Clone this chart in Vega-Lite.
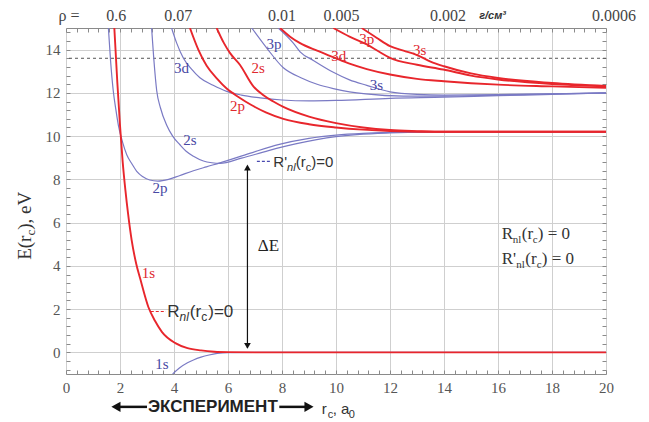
{
"$schema": "https://vega.github.io/schema/vega-lite/v6.json",
"width": 540, "height": 346,
"autosize": "none",
"padding": {"left": 66, "top": 28, "right": 43, "bottom": 48},
"background": "white",
"data": {"values": [{}]},
"datasets": {"curves": [
{"b":"P","c":"1s","x":3.95,"y":-1},{"b":"P","c":"1s","x":4.2,"y":-0.72},{"b":"P","c":"1s","x":4.5,"y":-0.48},{"b":"P","c":"1s","x":4.72,"y":-0.35},{"b":"P","c":"1s","x":5.0,"y":-0.22},{"b":"P","c":"1s","x":5.3,"y":-0.12},{"b":"P","c":"1s","x":5.6,"y":-0.05},{"b":"P","c":"1s","x":6,"y":-0.01},{"b":"P","c":"1s","x":7,"y":0},{"b":"P","c":"1s","x":20,"y":0},
{"b":"P","c":"2p","x":1.57,"y":15},{"b":"P","c":"2p","x":1.65,"y":13.5},{"b":"P","c":"2p","x":1.75,"y":12.1},{"b":"P","c":"2p","x":1.85,"y":11.2},{"b":"P","c":"2p","x":1.94,"y":10.5},{"b":"P","c":"2p","x":2.1,"y":9.7},{"b":"P","c":"2p","x":2.25,"y":9.14},{"b":"P","c":"2p","x":2.45,"y":8.7},{"b":"P","c":"2p","x":2.62,"y":8.37},{"b":"P","c":"2p","x":2.85,"y":8.12},{"b":"P","c":"2p","x":3.1,"y":7.97},{"b":"P","c":"2p","x":3.4,"y":7.92},{"b":"P","c":"2p","x":3.8,"y":8.0},{"b":"P","c":"2p","x":4.2,"y":8.17},{"b":"P","c":"2p","x":4.72,"y":8.4},{"b":"P","c":"2p","x":5.2,"y":8.58},{"b":"P","c":"2p","x":5.7,"y":8.76},{"b":"P","c":"2p","x":6.8,"y":9.2},{"b":"P","c":"2p","x":7.9,"y":9.62},{"b":"P","c":"2p","x":9,"y":9.9},{"b":"P","c":"2p","x":10,"y":10.05},{"b":"P","c":"2p","x":11,"y":10.13},{"b":"P","c":"2p","x":12,"y":10.17},{"b":"P","c":"2p","x":14,"y":10.2},{"b":"P","c":"2p","x":20,"y":10.2},
{"b":"P","c":"2s","x":3.17,"y":15},{"b":"P","c":"2s","x":3.25,"y":13.6},{"b":"P","c":"2s","x":3.36,"y":12.1},{"b":"P","c":"2s","x":3.5,"y":11.3},{"b":"P","c":"2s","x":3.73,"y":10.5},{"b":"P","c":"2s","x":3.95,"y":10.0},{"b":"P","c":"2s","x":4.22,"y":9.6},{"b":"P","c":"2s","x":4.45,"y":9.3},{"b":"P","c":"2s","x":4.72,"y":9.07},{"b":"P","c":"2s","x":5.09,"y":8.85},{"b":"P","c":"2s","x":5.4,"y":8.77},{"b":"P","c":"2s","x":5.7,"y":8.74},{"b":"P","c":"2s","x":6.5,"y":8.98},{"b":"P","c":"2s","x":7.5,"y":9.33},{"b":"P","c":"2s","x":8.5,"y":9.64},{"b":"P","c":"2s","x":10,"y":9.98},{"b":"P","c":"2s","x":12,"y":10.15},{"b":"P","c":"2s","x":14,"y":10.2},{"b":"P","c":"2s","x":20,"y":10.2},
{"b":"P","c":"3d","x":3.91,"y":15},{"b":"P","c":"3d","x":4.1,"y":14.3},{"b":"P","c":"3d","x":4.35,"y":13.6},{"b":"P","c":"3d","x":4.65,"y":13.1},{"b":"P","c":"3d","x":4.96,"y":12.7},{"b":"P","c":"3d","x":5.45,"y":12.35},{"b":"P","c":"3d","x":5.95,"y":12.07},{"b":"P","c":"3d","x":6.5,"y":11.9},{"b":"P","c":"3d","x":7.19,"y":11.77},{"b":"P","c":"3d","x":8,"y":11.67},{"b":"P","c":"3d","x":9,"y":11.63},{"b":"P","c":"3d","x":10,"y":11.65},{"b":"P","c":"3d","x":12,"y":11.75},{"b":"P","c":"3d","x":14,"y":11.8},{"b":"P","c":"3d","x":16,"y":11.87},{"b":"P","c":"3d","x":18,"y":11.93},{"b":"P","c":"3d","x":20,"y":12.0},
{"b":"P","c":"3p","x":6.88,"y":15},{"b":"P","c":"3p","x":7.43,"y":14.08},{"b":"P","c":"3p","x":8.05,"y":13.16},{"b":"P","c":"3p","x":8.7,"y":12.7},{"b":"P","c":"3p","x":9.3,"y":12.4},{"b":"P","c":"3p","x":9.9,"y":12.2},{"b":"P","c":"3p","x":10.5,"y":12.05},{"b":"P","c":"3p","x":11.1,"y":11.95},{"b":"P","c":"3p","x":12.5,"y":11.85},{"b":"P","c":"3p","x":14,"y":11.85},{"b":"P","c":"3p","x":16,"y":11.9},{"b":"P","c":"3p","x":18,"y":11.95},{"b":"P","c":"3p","x":20,"y":11.99},
{"b":"P","c":"3s","x":7.86,"y":15},{"b":"P","c":"3s","x":8.42,"y":14.3},{"b":"P","c":"3s","x":8.67,"y":13.9},{"b":"P","c":"3s","x":9.16,"y":13.5},{"b":"P","c":"3s","x":9.9,"y":12.95},{"b":"P","c":"3s","x":10.5,"y":12.6},{"b":"P","c":"3s","x":11.14,"y":12.35},{"b":"P","c":"3s","x":12,"y":12.05},{"b":"P","c":"3s","x":13,"y":11.93},{"b":"P","c":"3s","x":14,"y":11.9},{"b":"P","c":"3s","x":16,"y":11.92},{"b":"P","c":"3s","x":18,"y":11.96},{"b":"P","c":"3s","x":20,"y":12.0},
{"b":"R","c":"1s","x":1.79,"y":15},{"b":"R","c":"1s","x":1.9,"y":12.5},{"b":"R","c":"1s","x":2.0,"y":10.5},{"b":"R","c":"1s","x":2.1,"y":8.8},{"b":"R","c":"1s","x":2.2,"y":7.5},{"b":"R","c":"1s","x":2.3,"y":6.4},{"b":"R","c":"1s","x":2.43,"y":5.2},{"b":"R","c":"1s","x":2.6,"y":4.1},{"b":"R","c":"1s","x":2.75,"y":3.4},{"b":"R","c":"1s","x":3.05,"y":2.1},{"b":"R","c":"1s","x":3.3,"y":1.45},{"b":"R","c":"1s","x":3.55,"y":0.95},{"b":"R","c":"1s","x":4.05,"y":0.43},{"b":"R","c":"1s","x":4.5,"y":0.2},{"b":"R","c":"1s","x":5.0,"y":0.09},{"b":"R","c":"1s","x":5.5,"y":0.03},{"b":"R","c":"1s","x":6,"y":0.01},{"b":"R","c":"1s","x":7,"y":0},{"b":"R","c":"1s","x":20,"y":0},
{"b":"R","c":"2p","x":4.59,"y":15},{"b":"R","c":"2p","x":4.9,"y":14.0},{"b":"R","c":"2p","x":5.21,"y":13.25},{"b":"R","c":"2p","x":5.6,"y":12.65},{"b":"R","c":"2p","x":5.95,"y":12.2},{"b":"R","c":"2p","x":6.4,"y":11.8},{"b":"R","c":"2p","x":6.85,"y":11.45},{"b":"R","c":"2p","x":7.4,"y":11.1},{"b":"R","c":"2p","x":8.05,"y":10.8},{"b":"R","c":"2p","x":9,"y":10.55},{"b":"R","c":"2p","x":10,"y":10.4},{"b":"R","c":"2p","x":11,"y":10.3},{"b":"R","c":"2p","x":12,"y":10.24},{"b":"R","c":"2p","x":14,"y":10.2},{"b":"R","c":"2p","x":20,"y":10.2},
{"b":"R","c":"2s","x":5.58,"y":15},{"b":"R","c":"2s","x":5.85,"y":14.3},{"b":"R","c":"2s","x":6.07,"y":13.85},{"b":"R","c":"2s","x":6.44,"y":13.3},{"b":"R","c":"2s","x":6.94,"y":12.3},{"b":"R","c":"2s","x":7.3,"y":11.9},{"b":"R","c":"2s","x":7.68,"y":11.6},{"b":"R","c":"2s","x":8.05,"y":11.35},{"b":"R","c":"2s","x":9,"y":10.9},{"b":"R","c":"2s","x":10,"y":10.6},{"b":"R","c":"2s","x":11,"y":10.4},{"b":"R","c":"2s","x":12,"y":10.28},{"b":"R","c":"2s","x":13,"y":10.23},{"b":"R","c":"2s","x":14,"y":10.2},{"b":"R","c":"2s","x":20,"y":10.2},
{"b":"R","c":"3d","x":7.93,"y":15},{"b":"R","c":"3d","x":8.3,"y":14.6},{"b":"R","c":"3d","x":8.67,"y":14.3},{"b":"R","c":"3d","x":9.3,"y":13.95},{"b":"R","c":"3d","x":9.9,"y":13.65},{"b":"R","c":"3d","x":10.5,"y":13.35},{"b":"R","c":"3d","x":11.14,"y":13.1},{"b":"R","c":"3d","x":12,"y":12.85},{"b":"R","c":"3d","x":13,"y":12.65},{"b":"R","c":"3d","x":14,"y":12.54},{"b":"R","c":"3d","x":16,"y":12.38},{"b":"R","c":"3d","x":18,"y":12.3},{"b":"R","c":"3d","x":20,"y":12.23},
{"b":"R","c":"3p","x":9.9,"y":15},{"b":"R","c":"3p","x":10.5,"y":14.6},{"b":"R","c":"3p","x":11.14,"y":14.24},{"b":"R","c":"3p","x":11.6,"y":13.9},{"b":"R","c":"3p","x":12,"y":13.62},{"b":"R","c":"3p","x":13,"y":13.3},{"b":"R","c":"3p","x":13.97,"y":13.08},{"b":"R","c":"3p","x":15,"y":12.8},{"b":"R","c":"3p","x":16,"y":12.62},{"b":"R","c":"3p","x":18,"y":12.41},{"b":"R","c":"3p","x":20,"y":12.3},
{"b":"R","c":"3s","x":10.95,"y":15},{"b":"R","c":"3s","x":11.5,"y":14.55},{"b":"R","c":"3s","x":12,"y":14.16},{"b":"R","c":"3s","x":12.5,"y":13.95},{"b":"R","c":"3s","x":13,"y":13.75},{"b":"R","c":"3s","x":13.5,"y":13.45},{"b":"R","c":"3s","x":14,"y":13.23},{"b":"R","c":"3s","x":15,"y":12.9},{"b":"R","c":"3s","x":16,"y":12.69},{"b":"R","c":"3s","x":18,"y":12.46},{"b":"R","c":"3s","x":20,"y":12.32}
]},
"resolve": {"axis": {"x": "independent", "y": "independent"}},
"layer": [
{"mark": {"type": "rule", "strokeDash": [3, 3], "color": "#555", "strokeWidth": 1},
 "encoding": {"y": {"datum": 13.6, "type": "quantitative", "scale": {"domain": [-1, 15], "nice": false}, "axis": null}}},
{"data": {"name": "curves"}, "transform": [{"filter": "datum.b === 'P'"}],
 "mark": {"type": "line", "clip": true, "interpolate": "monotone", "strokeWidth": 1.2, "color": "#7a7ac4"},
 "encoding": {
  "x": {"field": "x", "type": "quantitative", "scale": {"domain": [0, 20], "nice": false},
   "axis": {"orient": "bottom", "values": [0,0.4,0.8,1.2,1.6,2,2.4,2.8,3.2,3.6,4,4.4,4.8,5.2,5.6,6,6.4,6.8,7.2,7.6,8,8.4,8.8,9.2,9.6,10,10.4,10.8,11.2,11.6,12,12.4,12.8,13.2,13.6,14,14.4,14.8,15.2,15.6,16,16.4,16.8,17.2,17.6,18,18.4,18.8,19.2,19.6,20],
    "labelExpr": "datum.value % 2 === 0 ? format(datum.value, 'd') : ''", "title": null, "domain": false,
    "grid": true, "gridColor": "#cfcfcf", "gridWidth": 1, "gridOpacity": {"condition": {"test": "datum.value % 2 === 0", "value": 1}, "value": 0},
    "ticks": true, "tickColor": "#8a8a8a", "tickSize": -4, "tickWidth": 1,
    "labelFont": "Liberation Serif", "labelFontSize": 15, "labelColor": "#555", "labelPadding": 10, "labelFlush": false, "labelOverlap": false, "labelBound": false}},
  "y": {"field": "y", "type": "quantitative", "scale": {"domain": [-1, 15], "nice": false},
   "axis": {"orient": "left", "values": [-0.8,-0.4,0,0.4,0.8,1.2,1.6,2,2.4,2.8,3.2,3.6,4,4.4,4.8,5.2,5.6,6,6.4,6.8,7.2,7.6,8,8.4,8.8,9.2,9.6,10,10.4,10.8,11.2,11.6,12,12.4,12.8,13.2,13.6,14,14.4,14.8],
    "labelExpr": "datum.value % 2 === 0 ? format(datum.value, 'd') : ''", "title": null, "domain": false,
    "grid": true, "gridColor": "#cfcfcf", "gridWidth": 1, "gridOpacity": {"condition": {"test": "datum.value % 2 === 0", "value": 1}, "value": 0},
    "ticks": true, "tickColor": "#8a8a8a", "tickSize": -4, "tickWidth": 1,
    "labelFont": "Liberation Serif", "labelFontSize": 15, "labelColor": "#555", "labelPadding": 10, "labelOverlap": false, "labelBound": false}},
  "detail": {"field": "c"}}},
{"data": {"name": "curves"}, "transform": [{"filter": "datum.b === 'R'"}],
 "mark": {"type": "line", "clip": true, "interpolate": "monotone", "strokeWidth": 1.9, "color": "#e8262c"},
 "encoding": {
  "x": {"field": "x", "type": "quantitative", "scale": {"domain": [0, 20], "nice": false}, "axis": null},
  "y": {"field": "y", "type": "quantitative", "scale": {"domain": [-1, 15], "nice": false}, "axis": null},
  "detail": {"field": "c"}}},
{"mark": {"type": "rule", "color": "#111", "strokeWidth": 1.2},
 "encoding": {
  "x": {"datum": 6.72, "type": "quantitative", "scale": {"domain": [0, 20], "nice": false},
   "axis": {"orient": "top", "values": [0,0.4,0.8,1.2,1.6,2,2.4,2.8,3.2,3.6,4,4.4,4.8,5.2,5.6,6,6.4,6.8,7.2,7.6,8,8.4,8.8,9.2,9.6,10,10.4,10.8,11.2,11.6,12,12.4,12.8,13.2,13.6,14,14.4,14.8,15.2,15.6,16,16.4,16.8,17.2,17.6,18,18.4,18.8,19.2,19.6,20],
    "labels": false, "title": null, "domain": false, "grid": false, "ticks": true, "tickColor": "#8a8a8a", "tickSize": -4, "tickWidth": 1}},
  "y": {"datum": 0.2, "type": "quantitative", "scale": {"domain": [-1, 15], "nice": false},
   "axis": {"orient": "right", "values": [-0.8,-0.4,0,0.4,0.8,1.2,1.6,2,2.4,2.8,3.2,3.6,4,4.4,4.8,5.2,5.6,6,6.4,6.8,7.2,7.6,8,8.4,8.8,9.2,9.6,10,10.4,10.8,11.2,11.6,12,12.4,12.8,13.2,13.6,14,14.4,14.8],
    "labels": false, "title": null, "domain": false, "grid": false, "ticks": true, "tickColor": "#8a8a8a", "tickSize": -4, "tickWidth": 1}},
  "y2": {"datum": 8.6}}},
{"mark": {"type": "point", "shape": "triangle-up", "filled": true, "color": "#111", "size": 45, "opacity": 1},
 "encoding": {"x": {"datum": 6.72, "type": "quantitative", "scale": {"domain": [0, 20], "nice": false}, "axis": null}, "y": {"datum": 8.55, "type": "quantitative", "scale": {"domain": [-1, 15], "nice": false}, "axis": null}}},
{"mark": {"type": "point", "shape": "triangle-down", "filled": true, "color": "#111", "size": 45, "opacity": 1},
 "encoding": {"x": {"datum": 6.72, "type": "quantitative", "scale": {"domain": [0, 20], "nice": false}, "axis": null}, "y": {"datum": 0.3, "type": "quantitative", "scale": {"domain": [-1, 15], "nice": false}, "axis": null}}},
{"mark": {"type": "text", "text": "ΔE", "font": "Liberation Serif", "fontSize": 17, "color": "#222", "align": "left", "baseline": "middle"},
 "encoding": {"x": {"datum": 7.1, "type": "quantitative", "scale": {"domain": [0, 20], "nice": false}, "axis": null}, "y": {"datum": 4.9, "type": "quantitative", "scale": {"domain": [-1, 15], "nice": false}, "axis": null}}},
{"mark": {"type": "rule", "color": "#4a4ab0", "strokeWidth": 1.2, "strokeDash": [3, 2]},
 "encoding": {"x": {"datum": 7.07, "type": "quantitative", "scale": {"domain": [0, 20], "nice": false}, "axis": null}, "x2": {"datum": 7.56}, "y": {"datum": 8.83, "type": "quantitative", "scale": {"domain": [-1, 15], "nice": false}, "axis": null}}},
{"mark": {"type": "rule", "color": "#e8262c", "strokeWidth": 1.2, "strokeDash": [3, 2]},
 "encoding": {"x": {"datum": 3.14, "type": "quantitative", "scale": {"domain": [0, 20], "nice": false}, "axis": null}, "x2": {"datum": 3.7}, "y": {"datum": 1.89, "type": "quantitative", "scale": {"domain": [-1, 15], "nice": false}, "axis": null}}},
{"layer": [
  {"mark": {"type": "text", "text": "R'", "dx": 0}},
  {"mark": {"type": "text", "text": "nl", "dx": 13.7, "dy": 4, "fontSize": 11, "fontStyle": "italic"}},
  {"mark": {"type": "text", "text": "(r", "dx": 22.5}},
  {"mark": {"type": "text", "text": "c", "dx": 32.5, "dy": 4, "fontSize": 11}},
  {"mark": {"type": "text", "text": ")=0", "dx": 38}}
 ],
 "encoding": {"x": {"datum": 7.68, "type": "quantitative", "scale": {"domain": [0, 20], "nice": false}, "axis": null}, "y": {"datum": 8.56, "type": "quantitative", "scale": {"domain": [-1, 15], "nice": false}, "axis": null}}},
{"layer": [
  {"mark": {"type": "text", "text": "R", "dx": 0, "fontSize": 17}},
  {"mark": {"type": "text", "text": "nl", "dx": 12.3, "dy": 4, "fontSize": 12, "fontStyle": "italic"}},
  {"mark": {"type": "text", "text": "(r", "dx": 22.5, "fontSize": 17}},
  {"mark": {"type": "text", "text": "c", "dx": 34, "dy": 4, "fontSize": 12}},
  {"mark": {"type": "text", "text": ")=0", "dx": 41, "fontSize": 17}}
 ],
 "encoding": {"x": {"datum": 3.75, "type": "quantitative", "scale": {"domain": [0, 20], "nice": false}, "axis": null}, "y": {"datum": 1.64, "type": "quantitative", "scale": {"domain": [-1, 15], "nice": false}, "axis": null}}},
{"layer": [
  {"mark": {"type": "text", "text": "R", "dx": 0, "font": "Liberation Serif", "fontSize": 17}},
  {"mark": {"type": "text", "text": "nl", "dx": 11, "dy": 4, "font": "Liberation Serif", "fontSize": 11}},
  {"mark": {"type": "text", "text": "(r", "dx": 20, "font": "Liberation Serif", "fontSize": 17}},
  {"mark": {"type": "text", "text": "c", "dx": 31, "dy": 4, "font": "Liberation Serif", "fontSize": 11}},
  {"mark": {"type": "text", "text": ") = 0", "dx": 36, "font": "Liberation Serif", "fontSize": 17}}
 ],
 "encoding": {"x": {"datum": 16.14, "type": "quantitative", "scale": {"domain": [0, 20], "nice": false}, "axis": null}, "y": {"datum": 5.26, "type": "quantitative", "scale": {"domain": [-1, 15], "nice": false}, "axis": null}}},
{"layer": [
  {"mark": {"type": "text", "text": "R'", "dx": 0, "font": "Liberation Serif", "fontSize": 17}},
  {"mark": {"type": "text", "text": "nl", "dx": 14.5, "dy": 4, "font": "Liberation Serif", "fontSize": 11}},
  {"mark": {"type": "text", "text": "(r", "dx": 23.5, "font": "Liberation Serif", "fontSize": 17}},
  {"mark": {"type": "text", "text": "c", "dx": 35, "dy": 4, "font": "Liberation Serif", "fontSize": 11}},
  {"mark": {"type": "text", "text": ") = 0", "dx": 40, "font": "Liberation Serif", "fontSize": 17}}
 ],
 "encoding": {"x": {"datum": 16.14, "type": "quantitative", "scale": {"domain": [0, 20], "nice": false}, "axis": null}, "y": {"datum": 4.1, "type": "quantitative", "scale": {"domain": [-1, 15], "nice": false}, "axis": null}}},
{"layer": [
  {"mark": {"type": "text", "text": "E(r", "dx": 0, "angle": 270, "font": "Liberation Serif", "fontSize": 19}},
  {"mark": {"type": "text", "text": "c", "dx": 24.2, "dy": 4, "angle": 270, "font": "Liberation Serif", "fontSize": 13}},
  {"mark": {"type": "text", "text": "), eV", "dx": 30, "angle": 270, "font": "Liberation Serif", "fontSize": 19}}
 ],
 "encoding": {"x": {"datum": -1.3, "type": "quantitative", "scale": {"domain": [0, 20], "nice": false}, "axis": null}, "y": {"datum": 4.28, "type": "quantitative", "scale": {"domain": [-1, 15], "nice": false}, "axis": null}}},
{"mark": {"type": "text", "text": "ЭКСПЕРИМЕНТ", "font": "Liberation Sans", "fontWeight": "bold", "fontSize": 17, "color": "#222", "align": "center", "baseline": "middle"},
 "encoding": {"x": {"datum": 5.44, "type": "quantitative", "scale": {"domain": [0, 20], "nice": false}, "axis": null}, "y": {"datum": -2.52, "type": "quantitative", "scale": {"domain": [-1, 15], "nice": false}, "axis": null}}},
{"mark": {"type": "rule", "color": "#111", "strokeWidth": 2.5},
 "encoding": {"x": {"datum": 1.85, "type": "quantitative", "scale": {"domain": [0, 20], "nice": false}, "axis": null}, "x2": {"datum": 3.0}, "y": {"datum": -2.52, "type": "quantitative", "scale": {"domain": [-1, 15], "nice": false}, "axis": null}}},
{"mark": {"type": "rule", "color": "#111", "strokeWidth": 2.5},
 "encoding": {"x": {"datum": 7.9, "type": "quantitative", "scale": {"domain": [0, 20], "nice": false}, "axis": null}, "x2": {"datum": 9.0}, "y": {"datum": -2.52, "type": "quantitative", "scale": {"domain": [-1, 15], "nice": false}, "axis": null}}},
{"mark": {"type": "point", "shape": "triangle-left", "filled": true, "color": "#111", "size": 110, "opacity": 1},
 "encoding": {"x": {"datum": 1.85, "type": "quantitative", "scale": {"domain": [0, 20], "nice": false}, "axis": null}, "y": {"datum": -2.52, "type": "quantitative", "scale": {"domain": [-1, 15], "nice": false}, "axis": null}}},
{"mark": {"type": "point", "shape": "triangle-right", "filled": true, "color": "#111", "size": 110, "opacity": 1},
 "encoding": {"x": {"datum": 9.0, "type": "quantitative", "scale": {"domain": [0, 20], "nice": false}, "axis": null}, "y": {"datum": -2.52, "type": "quantitative", "scale": {"domain": [-1, 15], "nice": false}, "axis": null}}},
{"layer": [
  {"mark": {"type": "text", "text": "r", "dx": 0}},
  {"mark": {"type": "text", "text": "c", "dx": 6, "dy": 4, "fontSize": 11}},
  {"mark": {"type": "text", "text": ", a", "dx": 11}},
  {"mark": {"type": "text", "text": "0", "dx": 27, "dy": 4, "fontSize": 11}}
 ],
 "encoding": {"x": {"datum": 9.47, "type": "quantitative", "scale": {"domain": [0, 20], "nice": false}, "axis": null}, "y": {"datum": -2.85, "type": "quantitative", "scale": {"domain": [-1, 15], "nice": false}, "axis": null}}},
{"layer": [
  {"mark": {"type": "text", "text": "ρ =", "align": "center", "baseline": "middle", "font": "Liberation Serif", "fontSize": 16, "color": "#444"}, "encoding": {"x": {"datum": 0.11, "type": "quantitative", "scale": {"domain": [0, 20], "nice": false}, "axis": null}}},
  {"mark": {"type": "text", "text": "0.6", "align": "center", "baseline": "middle", "font": "Liberation Serif", "fontSize": 16, "color": "#444"}, "encoding": {"x": {"datum": 1.86, "type": "quantitative", "scale": {"domain": [0, 20], "nice": false}, "axis": null}}},
  {"mark": {"type": "text", "text": "0.07", "align": "center", "baseline": "middle", "font": "Liberation Serif", "fontSize": 16, "color": "#444"}, "encoding": {"x": {"datum": 4.16, "type": "quantitative", "scale": {"domain": [0, 20], "nice": false}, "axis": null}}},
  {"mark": {"type": "text", "text": "0.01", "align": "center", "baseline": "middle", "font": "Liberation Serif", "fontSize": 16, "color": "#444"}, "encoding": {"x": {"datum": 8.0, "type": "quantitative", "scale": {"domain": [0, 20], "nice": false}, "axis": null}}},
  {"mark": {"type": "text", "text": "0.005", "align": "center", "baseline": "middle", "font": "Liberation Serif", "fontSize": 16, "color": "#444"}, "encoding": {"x": {"datum": 10.2, "type": "quantitative", "scale": {"domain": [0, 20], "nice": false}, "axis": null}}},
  {"mark": {"type": "text", "text": "0.002", "align": "center", "baseline": "middle", "font": "Liberation Serif", "fontSize": 16, "color": "#444"}, "encoding": {"x": {"datum": 14.15, "type": "quantitative", "scale": {"domain": [0, 20], "nice": false}, "axis": null}}},
  {"mark": {"type": "text", "text": "г/см³", "align": "center", "baseline": "middle", "font": "Liberation Sans", "fontWeight": "bold", "fontStyle": "italic", "fontSize": 11, "color": "#333"}, "encoding": {"x": {"datum": 15.8, "type": "quantitative", "scale": {"domain": [0, 20], "nice": false}, "axis": null}}},
  {"mark": {"type": "text", "text": "0.0006", "align": "center", "baseline": "middle", "font": "Liberation Serif", "fontSize": 16, "color": "#444"}, "encoding": {"x": {"datum": 20.3, "type": "quantitative", "scale": {"domain": [0, 20], "nice": false}, "axis": null}}}
 ],
 "encoding": {"y": {"datum": 15.55, "type": "quantitative", "scale": {"domain": [-1, 15], "nice": false}, "axis": null}}},
{"layer": [
  {"mark": {"type": "text", "text": "1s", "color": "#e0282e", "align": "center", "baseline": "middle", "font": "Liberation Serif", "fontSize": 15}, "encoding": {"x": {"datum": 3.05, "type": "quantitative", "scale": {"domain": [0, 20], "nice": false}, "axis": null}, "y": {"datum": 3.65, "type": "quantitative", "scale": {"domain": [-1, 15], "nice": false}, "axis": null}}},
  {"mark": {"type": "text", "text": "2p", "color": "#e0282e", "align": "center", "baseline": "middle", "font": "Liberation Serif", "fontSize": 15}, "encoding": {"x": {"datum": 6.35, "type": "quantitative", "scale": {"domain": [0, 20], "nice": false}, "axis": null}, "y": {"datum": 11.38, "type": "quantitative", "scale": {"domain": [-1, 15], "nice": false}, "axis": null}}},
  {"mark": {"type": "text", "text": "2s", "color": "#e0282e", "align": "center", "baseline": "middle", "font": "Liberation Serif", "fontSize": 15}, "encoding": {"x": {"datum": 7.12, "type": "quantitative", "scale": {"domain": [0, 20], "nice": false}, "axis": null}, "y": {"datum": 13.15, "type": "quantitative", "scale": {"domain": [-1, 15], "nice": false}, "axis": null}}},
  {"mark": {"type": "text", "text": "3d", "color": "#e0282e", "align": "center", "baseline": "middle", "font": "Liberation Serif", "fontSize": 15}, "encoding": {"x": {"datum": 10.1, "type": "quantitative", "scale": {"domain": [0, 20], "nice": false}, "axis": null}, "y": {"datum": 13.7, "type": "quantitative", "scale": {"domain": [-1, 15], "nice": false}, "axis": null}}},
  {"mark": {"type": "text", "text": "3p", "color": "#e0282e", "align": "center", "baseline": "middle", "font": "Liberation Serif", "fontSize": 15}, "encoding": {"x": {"datum": 11.14, "type": "quantitative", "scale": {"domain": [0, 20], "nice": false}, "axis": null}, "y": {"datum": 14.47, "type": "quantitative", "scale": {"domain": [-1, 15], "nice": false}, "axis": null}}},
  {"mark": {"type": "text", "text": "3s", "color": "#e0282e", "align": "center", "baseline": "middle", "font": "Liberation Serif", "fontSize": 15}, "encoding": {"x": {"datum": 13.1, "type": "quantitative", "scale": {"domain": [0, 20], "nice": false}, "axis": null}, "y": {"datum": 14.0, "type": "quantitative", "scale": {"domain": [-1, 15], "nice": false}, "axis": null}}},
  {"mark": {"type": "text", "text": "1s", "color": "#4848a4", "align": "center", "baseline": "middle", "font": "Liberation Serif", "fontSize": 15}, "encoding": {"x": {"datum": 3.55, "type": "quantitative", "scale": {"domain": [0, 20], "nice": false}, "axis": null}, "y": {"datum": -0.55, "type": "quantitative", "scale": {"domain": [-1, 15], "nice": false}, "axis": null}}},
  {"mark": {"type": "text", "text": "2p", "color": "#4848a4", "align": "center", "baseline": "middle", "font": "Liberation Serif", "fontSize": 15}, "encoding": {"x": {"datum": 3.48, "type": "quantitative", "scale": {"domain": [0, 20], "nice": false}, "axis": null}, "y": {"datum": 7.6, "type": "quantitative", "scale": {"domain": [-1, 15], "nice": false}, "axis": null}}},
  {"mark": {"type": "text", "text": "2s", "color": "#4848a4", "align": "center", "baseline": "middle", "font": "Liberation Serif", "fontSize": 15}, "encoding": {"x": {"datum": 4.59, "type": "quantitative", "scale": {"domain": [0, 20], "nice": false}, "axis": null}, "y": {"datum": 9.84, "type": "quantitative", "scale": {"domain": [-1, 15], "nice": false}, "axis": null}}},
  {"mark": {"type": "text", "text": "3d", "color": "#4848a4", "align": "center", "baseline": "middle", "font": "Liberation Serif", "fontSize": 15}, "encoding": {"x": {"datum": 4.28, "type": "quantitative", "scale": {"domain": [0, 20], "nice": false}, "axis": null}, "y": {"datum": 13.16, "type": "quantitative", "scale": {"domain": [-1, 15], "nice": false}, "axis": null}}},
  {"mark": {"type": "text", "text": "3p", "color": "#4848a4", "align": "center", "baseline": "middle", "font": "Liberation Serif", "fontSize": 15}, "encoding": {"x": {"datum": 7.7, "type": "quantitative", "scale": {"domain": [0, 20], "nice": false}, "axis": null}, "y": {"datum": 14.24, "type": "quantitative", "scale": {"domain": [-1, 15], "nice": false}, "axis": null}}},
  {"mark": {"type": "text", "text": "3s", "color": "#4848a4", "align": "center", "baseline": "middle", "font": "Liberation Serif", "fontSize": 15}, "encoding": {"x": {"datum": 11.5, "type": "quantitative", "scale": {"domain": [0, 20], "nice": false}, "axis": null}, "y": {"datum": 12.38, "type": "quantitative", "scale": {"domain": [-1, 15], "nice": false}, "axis": null}}}
 ]}
],
"config": {"view": {"stroke": "#8a8a8a", "strokeWidth": 1},
 "text": {"font": "Liberation Sans", "fontSize": 15, "color": "#333", "align": "left", "baseline": "alphabetic"}}
}
